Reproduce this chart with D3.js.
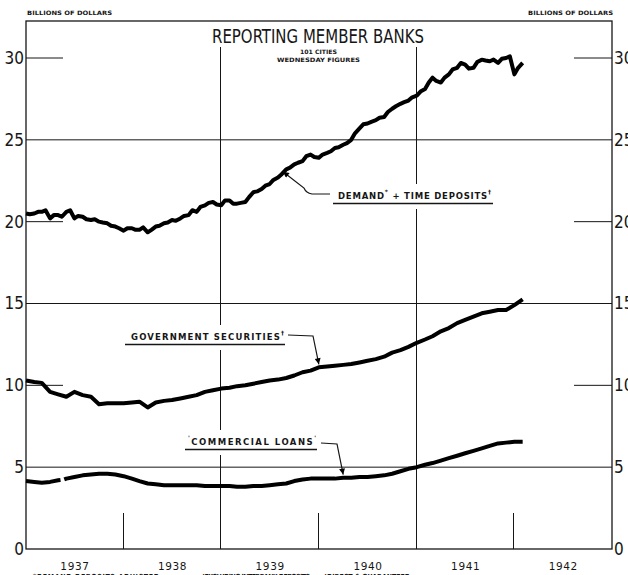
<!DOCTYPE html>
<html><head><meta charset="utf-8">
<script src="https://cdn.jsdelivr.net/npm/d3@7"></script>
<style>body{margin:0;background:#fff}svg{display:block}</style>
</head><body><svg id="c" width="628" height="575"></svg>
<script>
// ---------------- data ----------------
const months = [
"1937-01-01","1937-02-01","1937-03-01","1937-04-01","1937-05-01","1937-06-01","1937-07-01","1937-08-01","1937-09-01","1937-10-01","1937-11-01","1937-12-01",
"1938-01-01","1938-02-01","1938-03-01","1938-04-01","1938-05-01","1938-06-01","1938-07-01","1938-08-01","1938-09-01","1938-10-01","1938-11-01","1938-12-01",
"1939-01-01","1939-02-01","1939-03-01","1939-04-01","1939-05-01","1939-06-01","1939-07-01","1939-08-01","1939-09-01","1939-10-01","1939-11-01","1939-12-01",
"1940-01-01","1940-02-01","1940-03-01","1940-04-01","1940-05-01","1940-06-01","1940-07-01","1940-08-01","1940-09-01","1940-10-01","1940-11-01","1940-12-01",
"1941-01-01","1941-02-01","1941-03-01","1941-04-01","1941-05-01","1941-06-01","1941-07-01","1941-08-01","1941-09-01","1941-10-01","1941-11-01","1941-12-01",
"1942-01-01","1942-02-01"];

const demandDates = [
"1937-01-01","1937-01-15","1937-02-01","1937-02-15","1937-03-01","1937-03-15","1937-04-01","1937-04-15","1937-05-01","1937-05-15","1937-06-01","1937-06-15",
"1937-07-01","1937-07-15","1937-08-01","1937-08-15","1937-09-01","1937-09-15","1937-10-01","1937-10-15","1937-11-01","1937-11-15","1937-12-01","1937-12-15",
"1938-01-01","1938-01-15","1938-02-01","1938-02-15","1938-03-01","1938-03-15","1938-04-01","1938-04-15","1938-05-01","1938-05-15","1938-06-01","1938-06-15",
"1938-07-01","1938-07-15","1938-08-01","1938-08-15","1938-09-01","1938-09-15","1938-10-01","1938-10-15","1938-11-01","1938-11-15","1938-12-01","1938-12-15",
"1939-01-01","1939-01-15","1939-02-01","1939-02-15","1939-03-01","1939-03-15","1939-04-01","1939-04-15","1939-05-01","1939-05-15","1939-06-01","1939-06-15",
"1939-07-01","1939-07-15","1939-08-01","1939-08-15","1939-09-01","1939-09-15","1939-10-01","1939-10-15","1939-11-01","1939-11-15","1939-12-01","1939-12-15",
"1940-01-01","1940-01-15","1940-02-01","1940-02-15","1940-03-01","1940-03-15","1940-04-01","1940-04-15","1940-05-01","1940-05-15","1940-06-01","1940-06-15",
"1940-07-01","1940-07-15","1940-08-01","1940-08-15","1940-09-01","1940-09-15","1940-10-01","1940-10-15","1940-11-01","1940-11-15","1940-12-01","1940-12-15",
"1941-01-01","1941-01-15","1941-02-01","1941-02-15","1941-03-01","1941-03-15","1941-04-01","1941-04-15","1941-05-01","1941-05-15","1941-06-01","1941-06-15",
"1941-07-01","1941-07-15","1941-08-01","1941-08-15","1941-09-01","1941-09-15","1941-10-01","1941-10-15","1941-11-01","1941-11-15","1941-12-01","1941-12-15",
"1942-01-01","1942-01-15","1942-02-01"];
const demandValues = [
20.5,20.45,20.5,20.6,20.6,20.7,20.2,20.4,20.4,20.3,20.6,20.7,
20.2,20.35,20.3,20.15,20.1,20.15,20.0,19.95,19.9,19.75,19.7,19.6,
19.45,19.6,19.6,19.5,19.5,19.65,19.35,19.5,19.7,19.75,19.9,19.95,
20.1,20.05,20.2,20.35,20.4,20.7,20.6,20.9,21.0,21.15,21.2,21.05,
21.0,21.3,21.3,21.1,21.1,21.15,21.2,21.5,21.8,21.85,22.0,22.2,
22.3,22.55,22.7,22.9,23.2,23.3,23.5,23.6,23.7,24.0,24.1,23.95,
23.9,24.1,24.2,24.3,24.5,24.55,24.7,24.8,25.0,25.4,25.7,25.95,
26.0,26.1,26.2,26.35,26.4,26.7,26.9,27.05,27.2,27.3,27.4,27.6,
27.7,27.95,28.1,28.5,28.8,28.6,28.5,28.8,29.0,29.3,29.4,29.7,
29.6,29.35,29.4,29.75,29.9,29.85,29.8,29.9,29.7,29.95,30.0,30.1,
29.0,29.4,29.7];

const govValues = [
10.3,10.2,10.15,9.6,9.45,9.3,9.6,9.4,9.3,8.85,8.9,8.9,
8.9,8.95,9.0,8.65,8.95,9.05,9.1,9.2,9.3,9.4,9.6,9.7,
9.8,9.85,9.95,10.0,10.1,10.2,10.3,10.35,10.45,10.6,10.8,10.9,
11.1,11.15,11.2,11.25,11.3,11.4,11.5,11.6,11.75,12.0,12.15,12.35,
12.6,12.8,13.0,13.3,13.5,13.8,14.0,14.2,14.4,14.5,14.6,14.6,
14.9,15.25];

const loanDates = [
"1937-01-01","1937-02-01","1937-03-01","1937-04-01","1937-05-01","1937-05-10","1937-05-17","1937-05-24","1937-06-01","1937-07-01","1937-08-01","1937-09-01","1937-10-01","1937-11-01","1937-12-01",
"1938-01-01","1938-02-01","1938-03-01","1938-04-01","1938-05-01","1938-06-01","1938-07-01","1938-08-01","1938-09-01","1938-10-01","1938-11-01","1938-12-01",
"1939-01-01","1939-02-01","1939-03-01","1939-04-01","1939-05-01","1939-06-01","1939-07-01","1939-08-01","1939-09-01","1939-10-01","1939-11-01","1939-12-01",
"1940-01-01","1940-02-01","1940-03-01","1940-04-01","1940-05-01","1940-06-01","1940-07-01","1940-08-01","1940-09-01","1940-10-01","1940-11-01","1940-12-01",
"1941-01-01","1941-02-01","1941-03-01","1941-04-01","1941-05-01","1941-06-01","1941-07-01","1941-08-01","1941-09-01","1941-10-01","1941-11-01","1941-12-01",
"1942-01-01","1942-02-01"];
const loanValues = [
4.15,4.1,4.05,4.1,4.2,4.22,null,4.25,4.3,4.4,4.5,4.55,4.6,4.6,4.55,
4.45,4.3,4.15,4.0,3.95,3.9,3.9,3.9,3.9,3.9,3.85,3.85,
3.85,3.85,3.8,3.8,3.85,3.85,3.9,3.95,4.0,4.15,4.25,4.3,
4.3,4.3,4.3,4.35,4.35,4.4,4.4,4.45,4.5,4.6,4.75,4.9,
5.0,5.15,5.25,5.4,5.55,5.7,5.85,6.0,6.15,6.3,6.45,6.5,
6.55,6.55];

const yTicks = [0,5,10,15,20,25,30];
const fullGridValues = [5,15,25];
const shortGridValues = [10,20,30];
const yearLabels = ["1937","1938","1939","1940","1941","1942"];
const fullYearLines = ["1939","1941"];
const shortYearTicks = ["1938","1940","1942"];
const footnotes = ["*DEMAND DEPOSITS ADJUSTED", "\u2020EXCLUDING INTERBANK DEPOSITS", "\u2020DIRECT & GUARANTEED"];

// ---------------- drawing ----------------
const svg = d3.select("#c");
const parse = d3.timeParse("%Y-%m-%d");
const x = d3.scaleTime().domain([parse("1937-01-01"), parse("1943-01-01")]).range([26, 612]);
const y = d3.scaleLinear().domain([0, 30]).range([549, 58]);
const X0 = 26, X1 = 612, TOP = 21, BOT = y(0);
const ink = "#161616";
const narrow = "'Liberation Sans Narrow','DejaVu Sans Condensed',sans-serif";
const letter = "'DejaVu Sans',sans-serif";

svg.append("rect").attr("width",628).attr("height",575).attr("fill","#fff");

const grid = svg.append("g").attr("stroke", ink).attr("stroke-width", 1);
fullGridValues.forEach(v => grid.append("line").attr("x1", X0).attr("x2", X1).attr("y1", y(v)).attr("y2", y(v)));
shortGridValues.forEach(v => {
  grid.append("line").attr("x1", X0).attr("x2", X0 + 37).attr("y1", y(v)).attr("y2", y(v));
  grid.append("line").attr("x1", X1 - 38).attr("x2", X1).attr("y1", y(v)).attr("y2", y(v));
});
fullYearLines.forEach(yr => {
  const xx = Math.round(x(parse(yr + "-01-01"))) - 0.5;
  grid.append("line").attr("x1", xx).attr("x2", xx).attr("y1", 47).attr("y2", BOT);
});
shortYearTicks.forEach(yr => {
  const xx = Math.round(x(parse(yr + "-01-01"))) - 0.5;
  grid.append("line").attr("x1", xx).attr("x2", xx).attr("y1", BOT - 36).attr("y2", BOT);
});
// frame
svg.append("rect").attr("x", X0).attr("y", TOP).attr("width", X1 - X0).attr("height", BOT - TOP)
  .attr("fill", "none").attr("stroke", ink).attr("stroke-width", 1.3);

// y axes labels
const styleAxis = (g) => {
  g.select(".domain").remove();
  g.selectAll("text").attr("font-family", narrow).attr("font-size", 17).attr("fill", ink);
};
svg.append("g").attr("transform", `translate(${X0 - 1},0)`)
  .call(d3.axisLeft(y).tickValues(yTicks).tickSize(0).tickPadding(1).tickFormat(d3.format("d")))
  .call(styleAxis);
svg.append("g").attr("transform", `translate(${X1 + 1},0)`)
  .call(d3.axisRight(y).tickValues(yTicks).tickSize(0).tickPadding(1).tickFormat(d3.format("d")))
  .call(styleAxis);

// x axis (year labels at mid-year)
const xAxis = svg.append("g").attr("transform", `translate(0,${BOT + 11})`)
  .call(d3.axisBottom(x).tickValues(yearLabels.map(yr => parse(yr + "-07-01"))).tickSize(0)
        .tickFormat(d => d3.timeFormat("%Y")(d)));
xAxis.select(".domain").remove();
xAxis.selectAll("text").attr("font-family", letter).attr("font-size", 10.5).attr("letter-spacing", 0.6).attr("fill", ink);

// series lines
const line = d3.line().defined(d => d.v != null).x(d => x(d.d)).y(d => y(d.v));
const series = [
  demandDates.map((m, i) => ({d: parse(m), v: demandValues[i]})),
  months.map((m, i) => ({d: parse(m), v: govValues[i]})),
  loanDates.map((m, i) => ({d: parse(m), v: loanValues[i]}))
];
series.forEach(s => svg.append("path").datum(s).attr("d", line)
  .attr("fill", "none").attr("stroke", "#000").attr("stroke-width", 4)
  .attr("stroke-linejoin", "round").attr("stroke-linecap", "butt"));

// header texts
svg.append("text").attr("x", 27).attr("y", 15).attr("font-family", letter).attr("font-weight", "bold")
  .attr("font-size", 6).attr("textLength", 85).attr("lengthAdjust","spacingAndGlyphs").attr("fill", ink).text("BILLIONS OF DOLLARS");
svg.append("text").attr("x", 528).attr("y", 15).attr("font-family", letter).attr("font-weight", "bold")
  .attr("font-size", 6).attr("textLength", 85).attr("lengthAdjust","spacingAndGlyphs").attr("fill", ink).text("BILLIONS OF DOLLARS");
svg.append("text").attr("x", 212).attr("y", 43).attr("font-family", narrow).attr("font-size", 20)
  .attr("textLength", 212).attr("lengthAdjust","spacingAndGlyphs").attr("fill", ink).text("REPORTING MEMBER BANKS");
svg.append("text").attr("x", 300).attr("y", 54).attr("font-family", narrow).attr("font-weight","bold")
  .attr("font-size", 6).attr("textLength", 37).attr("lengthAdjust","spacingAndGlyphs").attr("fill", ink).text("101 CITIES");
svg.append("text").attr("x", 277).attr("y", 61.5).attr("font-family", narrow).attr("font-weight","bold")
  .attr("font-size", 6).attr("textLength", 83).attr("lengthAdjust","spacingAndGlyphs").attr("fill", ink).text("WEDNESDAY FIGURES");

// footnotes (cut at bottom edge as in the original)
const footX = [33, 202, 324];
const footW = [126, 108, 86];
footnotes.forEach((t, i) => svg.append("text").attr("x", footX[i]).attr("y", 578.5)
  .attr("font-family", narrow).attr("font-weight","bold").attr("font-size", 7)
  .attr("textLength", footW[i]).attr("lengthAdjust","spacing")
  .attr("fill", ink).text(t));

// annotation labels
svg.append("defs").append("marker").attr("id","arr").attr("viewBox","0 0 10 10").attr("refX",10).attr("refY",5)
  .attr("markerWidth",10).attr("markerHeight",6).attr("markerUnits","userSpaceOnUse").attr("orient","auto")
  .append("path").attr("d","M0,0L10,5L0,10z").attr("fill","#000");

function label(xs, base, parts, width, ulx0, ulx1) {
  const g = svg.append("g");
  const bg = g.append("rect").attr("fill","#fff");
  const t = g.append("text").attr("x", xs).attr("y", base).attr("font-family", letter).attr("font-weight","bold")
    .attr("font-size", 8.5).attr("fill", ink).attr("textLength", width).attr("lengthAdjust","spacing");
  parts.forEach(p => {
    if (p.sup) t.append("tspan").attr("dy", -5).attr("font-size", 6).text(p.t);
    else t.append("tspan").attr("dy", p.down ? 5 : 0).text(p.t);
  });
  g.append("line").attr("x1", ulx0).attr("x2", ulx1).attr("y1", base + 4.5).attr("y2", base + 4.5)
    .attr("stroke", ink).attr("stroke-width", 1.3);
  const b = t.node().getBBox();
  bg.attr("x", ulx0 - 3).attr("y", b.y - 4).attr("width", ulx1 - ulx0 + 6).attr("height", b.height + 12);
}
label(338, 199, [{t:"DEMAND"},{t:"*",sup:true},{t:" + TIME DEPOSITS",down:true},{t:"\u2020",sup:true}], 153, 333, 493);
label(131, 340, [{t:"GOVERNMENT  SECURITIES"},{t:"\u2020",sup:true}], 153, 125, 285);
label(188, 445, [{t:"'",sup:true},{t:"COMMERCIAL  LOANS",down:true},{t:"'",sup:true}], 128, 185, 317);

// leaders with arrows, tips anchored to the curves via the scales
const tipD = [x(parse("1939-08-20")), y(23.3) + 4];
const tipG = [x(parse("1940-01-01")), y(11.1) - 3];
const tipL = [x(parse("1940-04-01")), y(4.3) - 4];
const lead = svg.append("g").attr("fill","none").attr("stroke", ink).attr("stroke-width", 1.2);
lead.append("path").attr("d", `M330,194 L312,194 Q306,193 304,188 L${tipD[0]},${tipD[1]}`).attr("marker-end","url(#arr)");
lead.append("path").attr("d", `M288,335 L313,336 L${tipG[0]},${tipG[1]}`).attr("marker-end","url(#arr)");
lead.append("path").attr("d", `M321,443 L337,444 L${tipL[0]},${tipL[1]}`).attr("marker-end","url(#arr)");
</script></body></html>
